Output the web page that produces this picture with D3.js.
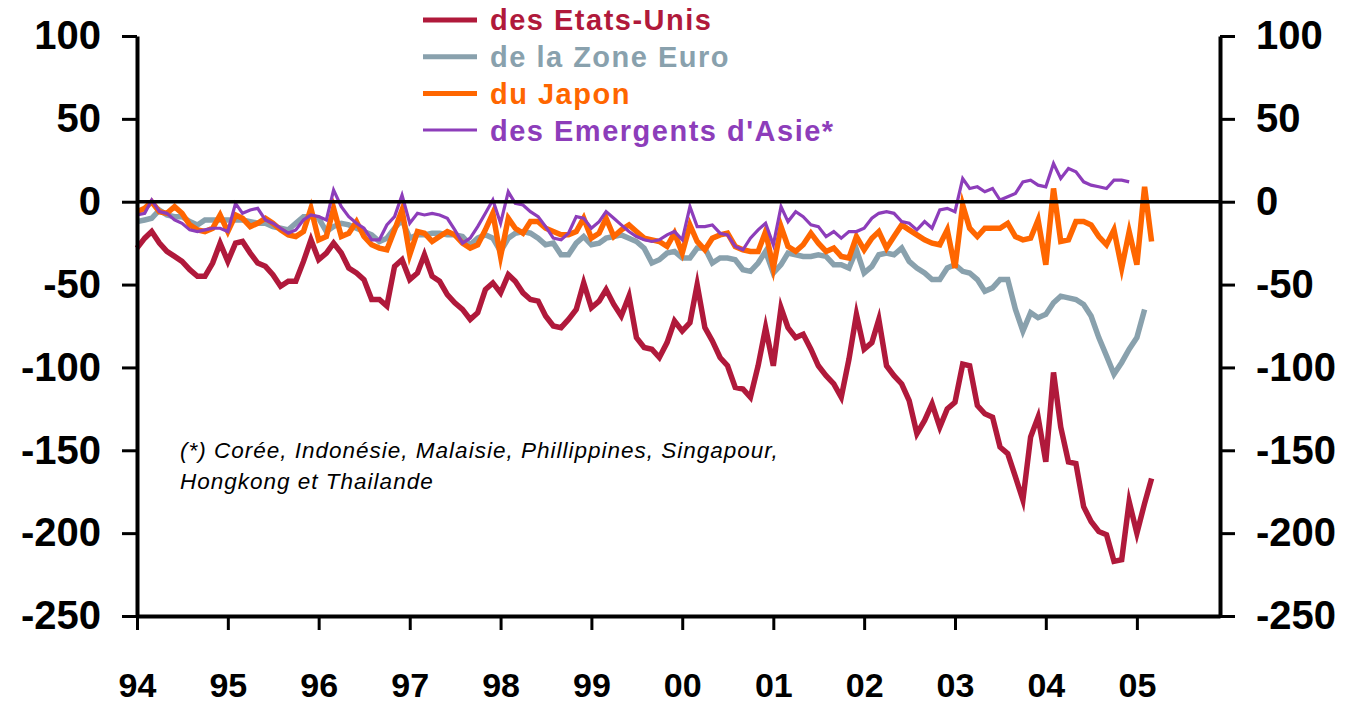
<!DOCTYPE html>
<html>
<head>
<meta charset="utf-8">
<script src="https://cdn.jsdelivr.net/npm/d3@7"></script>
<style>
  body { margin: 0; background: #fff; }
  svg { display: block; font-family: Arial, "Liberation Sans", sans-serif; }
</style>
</head>
<body>
<div id="chart"></div>
<script>
// ------------------------------
// Data (monthly, starting Jan 1994, billions)
// ------------------------------

const startMonth = new Date(1994, 0, 1);
const endMonth = new Date(2005, 11, 1);

const usBalance = [
  -28, -22, -18, -25, -30, -33, -36, -41, -45, -45, -37, -25,
  -36, -25, -24, -31, -37, -39, -44, -51, -48, -48, -36, -23,
  -35, -31, -25, -31, -40, -43, -47, -59, -59, -63, -39, -35,
  -47, -43, -32, -45, -48, -56, -61, -65, -71, -67, -53, -49,
  -55, -44, -48, -55, -59, -60, -69, -75, -76, -71, -65, -49,
  -64, -60, -53, -62, -69, -57, -82, -88, -89, -94, -85, -72,
  -78, -73, -50, -76, -84, -94, -99, -112, -113, -118, -99, -76,
  -99, -64, -76, -82, -80, -89, -99, -105, -110, -118, -95, -68,
  -89, -85, -71, -99, -105, -110, -120, -140, -132, -122, -136, -125,
  -121, -98, -99, -123, -128, -130, -148, -152, -166, -180, -142, -130,
  -157, -103, -136, -157, -158, -184, -193, -199, -201, -217, -216, -181,
  -200, -182, -167
];

const euroBalance = [
  -12, -11, -10, -5, -8, -9, -9, -12, -14, -11, -11, -11,
  -11, -11, -11, -12, -13, -13, -15, -16, -17, -13, -9, -9,
  -10, -18, -15, -13, -14, -16, -18, -20, -24, -22, -16, -11,
  -22, -20, -20, -19, -19, -20, -20, -21, -26, -22, -20, -22,
  -30, -22, -19, -18, -19, -22, -26, -25, -32, -32, -25, -21,
  -26, -25, -22, -21, -20, -22, -24, -28, -37, -35, -31, -30,
  -34, -34, -28, -28, -37, -34, -34, -35, -41, -42, -37, -30,
  -43, -38, -31, -32, -33, -33, -32, -33, -38, -38, -40, -29,
  -43, -39, -32, -31, -32, -28, -36, -40, -43, -47, -47, -40,
  -38, -42, -43, -47, -54, -52, -47, -47, -65, -78, -67, -70,
  -68, -61, -57, -58, -59, -62, -69, -82, -93, -104, -97, -89,
  -82, -65
];

const japanBalance = [
  -6, -4, 0, -6, -7, -3, -7, -14, -17, -18, -16, -8,
  -18, -8, -10, -15, -13, -10, -13, -17, -20, -21, -18, -4,
  -23, -21, -4, -21, -19, -12, -21, -26, -28, -29, -17, -5,
  -32, -18, -19, -24, -21, -18, -20, -25, -28, -26, -17, -7,
  -33, -10, -16, -19, -12, -12, -16, -18, -20, -20, -18, -10,
  -22, -19, -10, -21, -17, -14, -18, -22, -23, -24, -27, -19,
  -31, -14, -24, -29, -22, -20, -19, -27, -29, -30, -30, -18,
  -40, -15, -27, -30, -26, -19, -25, -30, -28, -33, -34, -21,
  -29, -22, -18, -28, -21, -14, -17, -20, -23, -25, -26, -17,
  -40, -2, -16, -21, -16, -16, -16, -13, -21, -23, -22, -11,
  -38, 8, -24, -23, -12, -12, -14, -21, -26, -17, -40, -18,
  -38, 9, -24
];

const asiaBalance = [
  -8, -7, 1, -6, -7, -11, -13, -17, -18, -17, -16, -16,
  -18, -1, -7, -5, -4, -11, -13, -16, -19, -17, -11, -8,
  -9, -11, 7, -3, -9, -13, -16, -23, -23, -14, -9, 4,
  -13, -7, -8, -7, -8, -10, -17, -25, -22, -15, -7, 1,
  -13, 6, -1, -2, -6, -9, -15, -22, -23, -19, -9, -10,
  -16, -12, -6, -10, -14, -18, -21, -23, -24, -23, -20, -18,
  -23, -3, -15, -15, -14, -19, -20, -27, -29, -22, -17, -13,
  -26, -3, -12, -6, -9, -14, -15, -21, -18, -22, -18, -18,
  -16, -10, -7, -6, -7, -12, -13, -17, -12, -16, -5, -4,
  -6, 14, 8, 9, 6, 8, 1, 3, 5, 12, 13, 10,
  9, 23, 14, 20, 18, 12, 10, 9, 8, 13, 13, 12
];

const yearLabels = ["94", "95", "96", "97", "98", "99", "00", "01", "02", "03", "04", "05"];
const yTicks = [100, 50, 0, -50, -100, -150, -200, -250];

const seriesNames = ["des Etats-Unis", "de la Zone Euro", "du Japon", "des Emergents d'Asie*"];
const seriesColors = ["#B0193B", "#89A1AD", "#FF6600", "#8D3DBA"];
const footnoteLines = [
  "(*) Corée, Indonésie, Malaisie, Phillippines, Singapour,",
  "Hongkong et Thailande"
];

// ------------------------------
// Main
// ------------------------------

const width = 1347;
const height = 703;
const margin = { top: 36, right: 127, bottom: 87, left: 137 };

const svg = d3.select("#chart").append("svg").attr("width", width).attr("height", height);

const x = d3.scaleTime()
  .domain([startMonth, endMonth])
  .range([margin.left, width - margin.right]);

const y = d3.scaleLinear()
  .domain([-250, 100])
  .range([height - margin.bottom, margin.top]);

const monthDate = (i) => d3.timeMonth.offset(startMonth, i);
const toPoints = (values) => values.map((v, i) => ({ date: monthDate(i), value: v }));

const series = [
  { name: seriesNames[0], color: seriesColors[0], width: 5.5, data: toPoints(usBalance) },
  { name: seriesNames[1], color: seriesColors[1], width: 5.5, data: toPoints(euroBalance) },
  { name: seriesNames[2], color: seriesColors[2], width: 5.5, data: toPoints(japanBalance) },
  { name: seriesNames[3], color: seriesColors[3], width: 3.2, data: toPoints(asiaBalance) },
];

drawLines();
drawAxes();
drawLegend();
drawFootnote();

// -----------------------------
// Helper Functions
// -----------------------------

function drawLines() {
  const line = d3.line().x((d) => x(d.date)).y((d) => y(d.value));
  // draw order: euro under, then US, japan, asia on top
  const order = [1, 0, 2, 3];
  svg.append("g")
    .selectAll("path")
    .data(order.map((k) => series[k]))
    .join("path")
    .attr("fill", "none")
    .attr("stroke", (d) => d.color)
    .attr("stroke-width", (d) => d.width)
    .attr("stroke-linejoin", "miter")
    .attr("stroke-miterlimit", 6)
    .attr("d", (d) => line(d.data));

  // zero line
  svg.append("line")
    .attr("x1", x.range()[0]).attr("x2", x.range()[1])
    .attr("y1", y(0)).attr("y2", y(0))
    .attr("stroke", "#000")
    .attr("stroke-width", 3.5);
}

function styleAxis(g, fontSize) {
  g.select(".domain").attr("stroke", "#000").attr("stroke-width", 4);
  g.selectAll(".tick line").attr("stroke", "#000").attr("stroke-width", 3);
  g.selectAll(".tick text")
    .attr("fill", "#000")
    .style("font-size", fontSize + "px")
    .style("font-weight", "bold");
}

function drawAxes() {
  const fmt = (d) => String(d);

  svg.append("g")
    .attr("transform", `translate(${margin.left},0)`)
    .call(d3.axisLeft(y).tickValues(yTicks).tickFormat(fmt).tickSize(15).tickSizeOuter(0).tickPadding(21))
    .call((g) => styleAxis(g, 40));

  svg.append("g")
    .attr("transform", `translate(${width - margin.right},0)`)
    .call(d3.axisRight(y).tickValues(yTicks).tickFormat(fmt).tickSize(15).tickSizeOuter(0).tickPadding(21))
    .call((g) => styleAxis(g, 40));

  // year labels sit close to the bottom edge, keep them a bit smaller
  const yearTicks = yearLabels.map((d, i) => new Date(1994 + i, 0, 1));
  svg.append("g")
    .attr("transform", `translate(0,${height - margin.bottom})`)
    .call(d3.axisBottom(x).tickValues(yearTicks).tickFormat((d, i) => yearLabels[i]).tickSize(14).tickSizeOuter(0).tickPadding(43))
    .call((g) => styleAxis(g, 34));
}

function drawLegend() {
  const legend = svg.append("g").attr("transform", "translate(423,20)");
  const rows = legend.selectAll("g")
    .data(series)
    .join("g")
    .attr("transform", (d, i) => `translate(0,${i * 36.7})`);

  rows.append("line")
    .attr("x1", 0).attr("x2", 54)
    .attr("stroke", (d) => d.color)
    .attr("stroke-width", (d) => (d.width > 4 ? 5 : 3));

  rows.append("text")
    .attr("x", 67)
    .attr("dy", "0.36em")
    .attr("fill", (d) => d.color)
    .style("font-size", "29px")
    .style("font-weight", "bold")
    .style("letter-spacing", "1.5px")
    .text((d) => d.name);
}

function drawFootnote() {
  svg.append("g")
    .selectAll("text")
    .data(footnoteLines)
    .join("text")
    .attr("x", 180)
    .attr("y", (d, i) => 458 + i * 31)
    .attr("fill", "#000")
    .style("font-size", "22.5px")
    .style("font-style", "italic")
    .style("letter-spacing", "1px")
    .text((d) => d);
}
</script>
</body>
</html>
